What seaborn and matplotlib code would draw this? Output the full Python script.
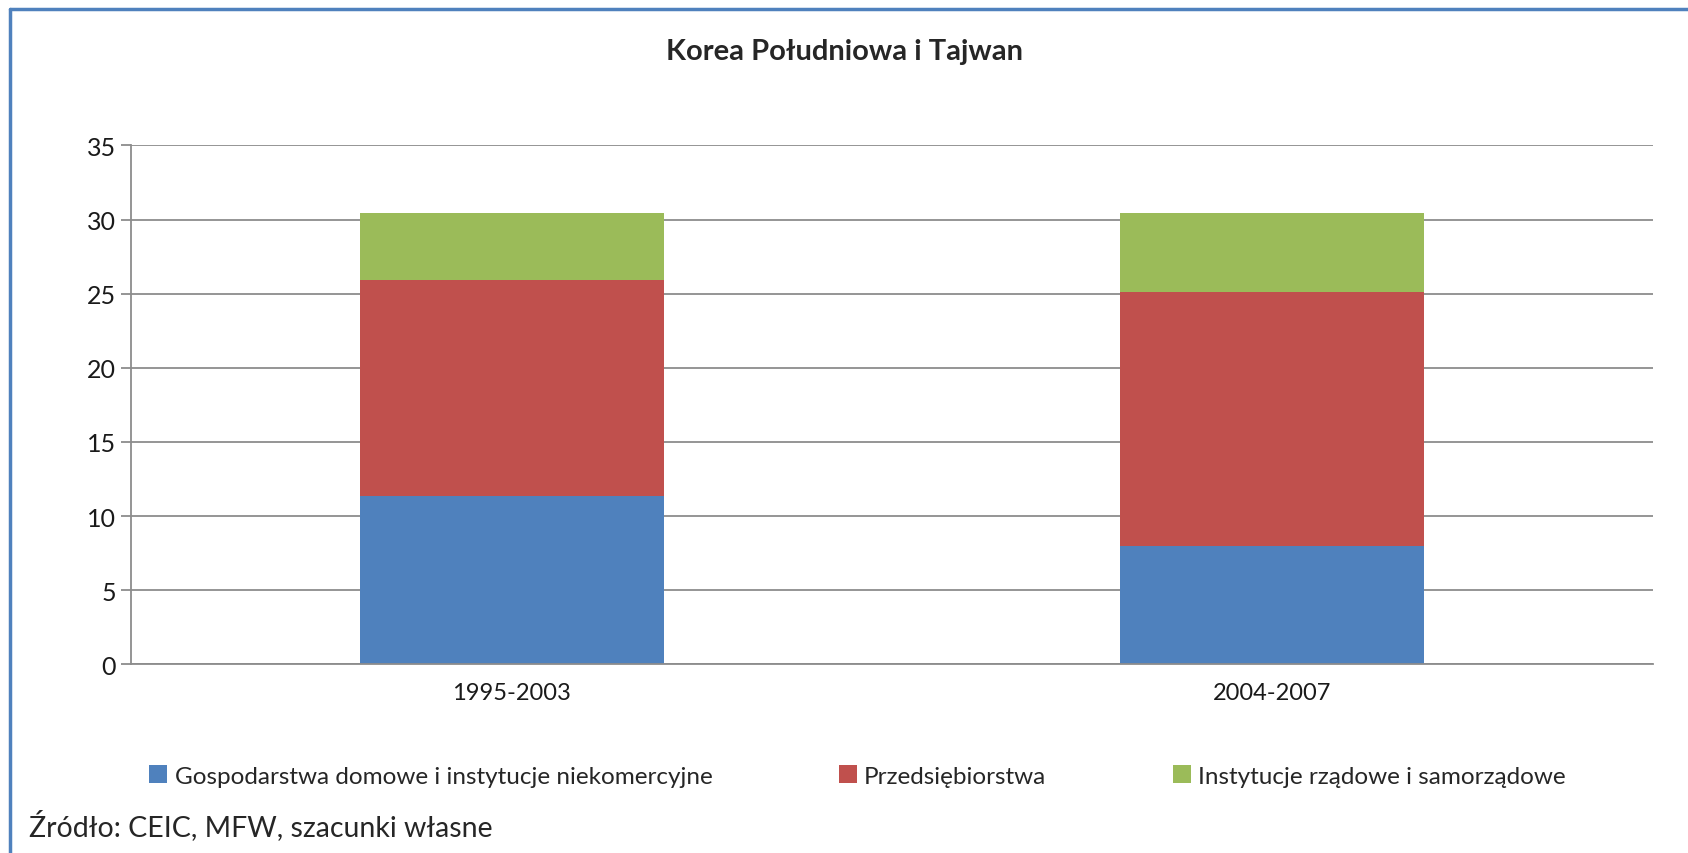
import matplotlib
matplotlib.use('Agg')
import matplotlib.pyplot as plt
import seaborn as sns
import pandas as pd
import numpy as np
from matplotlib.patches import Patch
from matplotlib.lines import Line2D

periods = ['1995-2003', '2004-2007']
households = [11.35, 7.95]
enterprises = [14.6, 17.15]
government = [4.5, 5.35]

series_names = ['Gospodarstwa domowe i instytucje niekomercyjne',
                'Przedsiębiorstwa',
                'Instytucje rządowe i samorządowe']
colors = ['#4F81BD', '#C0504D', '#9BBB59']

sns.set_theme(style='white')
plt.rcParams['font.family'] = ['Lato', 'DejaVu Sans']

df = pd.DataFrame({'okres': periods,
                   'h': households,
                   'e': enterprises,
                   'g': government})
df['he'] = df['h'] + df['e']
df['heg'] = df['he'] + df['g']

fig = plt.figure(figsize=(16.88, 8.54), dpi=100)
ax = fig.add_axes([0.0778, 0.221, 0.9012, 0.6076])

# stacked bars: draw cumulative totals from the top down
for col, c in zip(['heg', 'he', 'h'], colors[::-1]):
    sns.barplot(data=df, x='okres', y=col, color=c, width=0.4,
                saturation=1, ax=ax, linewidth=0)

ax.set_xlim(-0.5, 1.5)
ax.set_ylim(0, 35)
ax.set_yticks(np.arange(0, 36, 5))
ax.yaxis.grid(True, color='#8c8c8c', linewidth=1.3)
ax.set_axisbelow(True)
ax.set_xlabel('')
ax.set_ylabel('')
for s in ['top', 'right']:
    ax.spines[s].set_visible(False)
for s in ['left', 'bottom']:
    ax.spines[s].set_color('#8c8c8c')
    ax.spines[s].set_linewidth(1.3)
ax.set_xticks([-0.5, 0.5, 1.5], minor=True)
ax.tick_params(axis='x', which='major', length=0, pad=13, labelsize=17, labelcolor='#1a1a1a')
ax.tick_params(axis='x', which='minor', length=7, width=1.3, color='#8c8c8c', direction='out')
ax.tick_params(axis='y', length=7, width=1.3, color='#8c8c8c', direction='out', left=True,
               pad=4, labelsize=18, labelcolor='#1a1a1a')

fig.text(0.5, 0.9395, 'Korea Południowa i Tajwan', ha='center', va='center',
         fontsize=21, fontweight='bold')

handles = [Patch(facecolor=c, edgecolor='none') for c in colors]
fig.legend(handles, series_names, loc='center', bbox_to_anchor=(0.508, 0.09), ncol=3,
           frameon=False, fontsize=17.5, handlelength=0.75, handleheight=0.75,
           handletextpad=0.3, columnspacing=5.2)

fig.text(0.017, 0.033, 'Źródło: CEIC, MFW, szacunki własne', ha='left', va='center',
         fontsize=20.5)

# blue frame on top and left
fig.add_artist(Line2D([0.006, 1.0], [0.988, 0.988], color='#4F81BD', linewidth=2.5,
                      transform=fig.transFigure))
fig.add_artist(Line2D([0.006, 0.006], [0.0, 0.988], color='#4F81BD', linewidth=2.5,
                      transform=fig.transFigure))

fig.savefig('out.png', dpi=100, facecolor='white')
